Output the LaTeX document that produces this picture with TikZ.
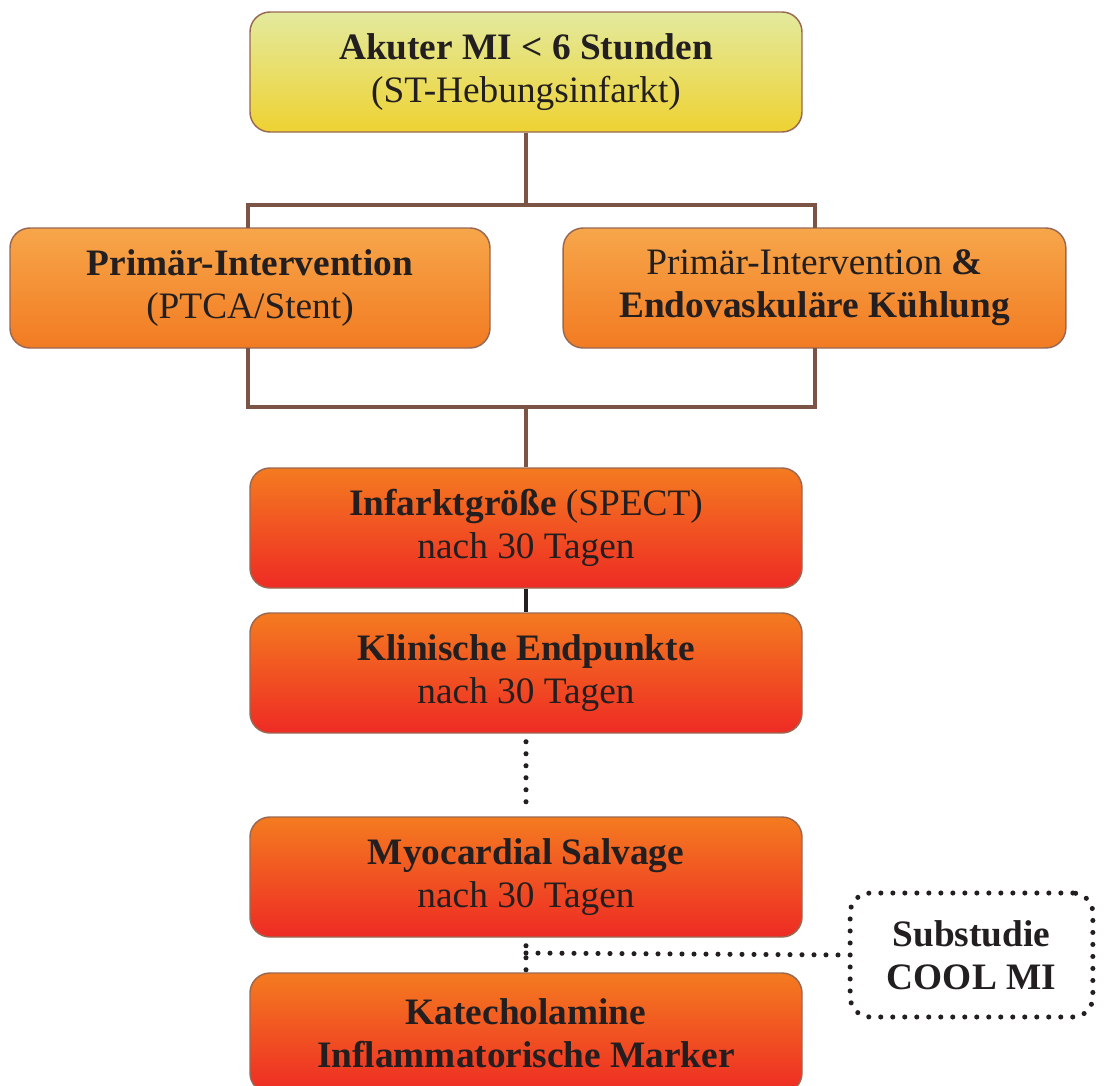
\documentclass[tikz,border=0pt]{standalone}
\usepackage{fontspec}
\setmainfont{Liberation Serif}
\definecolor{txt}{HTML}{231F20}
\definecolor{brd}{HTML}{9A6852}
\definecolor{conn}{HTML}{7B5446}
\definecolor{ytop}{HTML}{E3EA9E}
\definecolor{ybot}{HTML}{EED232}
\definecolor{otop}{HTML}{F7A64A}
\definecolor{obot}{HTML}{F27B22}
\definecolor{rtop}{HTML}{F47B20}
\definecolor{rbot}{HTML}{EE2B24}
\begin{document}
\begin{tikzpicture}[x=0.75pt,y=-0.75pt,
  boxbase/.style={draw=brd,line width=1.1pt,rounded corners=15pt,align=center,
    text=txt,font=\fontsize{28}{32}\selectfont,inner sep=0pt,minimum height=90pt},
  ybox/.style={boxbase,top color=ytop,bottom color=ybot,minimum width=414pt},
  obox/.style={boxbase,top color=otop,bottom color=obot},
  rbox/.style={boxbase,top color=rtop,bottom color=rbot,minimum width=414pt},
  conline/.style={draw=conn,line width=3pt},
  dotline/.style={draw=txt,line width=3.8pt,line cap=round,dash pattern=on 0pt off 9pt},
]
\useasboundingbox (0,0) rectangle (1106,1085);
\node[ybox] (top) at (526,72) {\textbf{Akuter MI < 6 Stunden}\\(ST-Hebungsinfarkt)};
\node[obox,minimum width=360pt] (left) at (250,288) {\textbf{Primär-Intervention}\\(PTCA/Stent)};
\node[obox,minimum width=377pt] (right) at (814.5,288) {Primär-Intervention \textbf{\&}\\\textbf{Endovaskuläre Kühlung}};
\node[rbox] (inf) at (526,528) {\textbf{Infarktgröße} (SPECT)\\nach 30 Tagen};
\node[rbox] (kli) at (526,673) {\textbf{Klinische Endpunkte}\\nach 30 Tagen};
\node[rbox] (myo) at (526,877) {\textbf{Myocardial Salvage}\\nach 30 Tagen};
\node[rbox] (kat) at (526,1033) {\textbf{Katecholamine}\\\textbf{Inflammatorische Marker}};
\node[dotline,rounded corners=15pt,minimum width=182pt,minimum height=93pt,align=center,
  text=txt,font=\fontsize{28}{32}\selectfont\bfseries,inner sep=0pt] (sub) at (971.5,955) {Substudie\\COOL MI};
\coordinate (splitA) at (526,205);
\coordinate (joinB) at (526,407);
\coordinate (branch) at (526,953);
% upper split
\draw[conline] (top.south) -- (splitA);
\draw[conline] (248,228) |- (815,205) -- (815,228);
% lower join
\draw[conline] (248,348) |- (815,407) -- (815,348);
\draw[conline] (joinB) -- (inf.north);
% solid black
\draw[draw=txt,line width=3pt] (inf.south) -- (kli.north);
% dotted
\draw[dotline] ([yshift=-6pt]kli.south) -- ([yshift=3pt]myo.north);
\draw[dotline] ([yshift=-6pt]myo.south) -- (branch) -- ([yshift=-6pt]kat.north);
\draw[dotline] (branch) -- (sub.west);
\end{tikzpicture}
\end{document}
